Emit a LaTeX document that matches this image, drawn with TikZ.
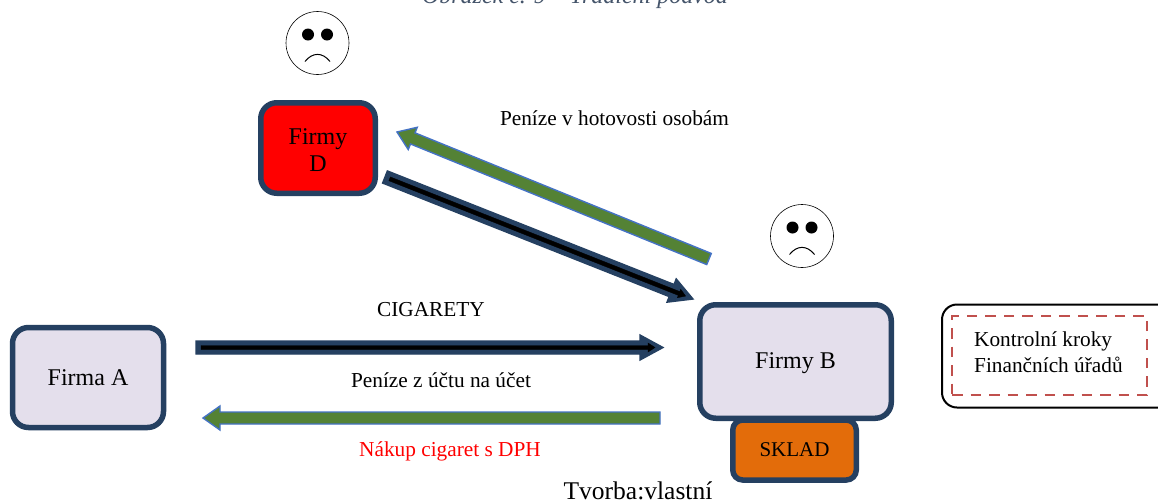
\documentclass[tikz,border=0pt]{standalone}
\usepackage{fontspec}
\setmainfont{Liberation Serif}
\usetikzlibrary{calc}
\definecolor{navy}{HTML}{254061}
\definecolor{lilac}{HTML}{E4DFEC}
\definecolor{leaf}{HTML}{548235}
\definecolor{sky}{HTML}{4472C4}
\definecolor{amber}{HTML}{E36C0A}
\definecolor{dashred}{HTML}{C0504D}
\definecolor{slate}{HTML}{44546A}
\newcommand{\blockarrow}[8]{%
  \coordinate (hb) at ($(#2)!#5!(#1)$);
  \filldraw[fill=#6,draw=#7,line width=#8,line join=miter]
    ($(#1)!#3!90:(#2)$) -- ($(hb)!#3!90:(#2)$) -- ($(hb)!#4!90:(#2)$) -- (#2)
    -- ($(hb)!#4!-90:(#2)$) -- ($(hb)!#3!-90:(#2)$) -- ($(#1)!#3!-90:(#2)$) -- cycle;
}
\newcommand{\sadface}[2]{%
  \begin{scope}[shift={(#1,#2)}]
    \draw[black,line width=0.6pt,fill=white] (0,0) circle (31.5pt);
    \fill (-9.5,-8.5) circle (6pt);
    \fill (9.5,-8.5) circle (6pt);
    \draw[line width=1pt] (-12.5,18.5) .. controls (-5,9) and (5,9) .. (12.5,18.5);
  \end{scope}%
}
\tikzset{
  x=1pt,y=-1pt,
  firm/.style={draw=navy,line width=5.5pt,rounded corners=16pt,fill=lilac,inner sep=0pt,align=center,font=\fontsize{24}{27}\selectfont},
  lab/.style={inner sep=0pt,font=\fontsize{21.3}{26}\selectfont,align=center},
}
\begin{document}
\begin{tikzpicture}
\clip (0,0) rectangle (1158,499);
\fill[white] (0,0) rectangle (1158,499);
\node[inner sep=0pt,text=slate,font=\itshape\fontsize{24}{26}\selectfont] (title) at (575,-2) {Obrázek č. 9 – Tradiční podvod};
% faces
\sadface{317.5}{43}
\sadface{802}{236}
% boxes
\node[firm,fill=red,minimum width=114.5pt,minimum height=90.5pt] (D) at (318,148) {};
\node[lab,font=\fontsize{24}{27}\selectfont] (Dt) at (318,150) {Firmy\\D};
\node[firm,minimum width=151pt,minimum height=100pt] (A) at (88,377.5) {};
\node[lab,font=\fontsize{24}{27}\selectfont] (At) at (88,378) {Firma A};
\node[firm,fill=amber,rounded corners=10pt,minimum width=123.5pt,minimum height=60pt,font=\fontsize{21}{24}\selectfont] (S) at (794.5,450) {SKLAD};
\node[firm,minimum width=191.5pt,minimum height=113.5pt] (B) at (795.5,361.5) {};
\node[lab,font=\fontsize{24}{27}\selectfont] (Bt) at (795.5,363) {Firmy B};
% control box
\node[draw=black,line width=2pt,rounded corners=15pt,fill=white,minimum width=240pt,minimum height=103pt,inner sep=0pt] (K) at (1062,356) {};
\node[draw=dashred,line width=2.8pt,dash pattern=on 10.5pt off 8pt,minimum width=195pt,minimum height=79pt,inner sep=0pt] (Kd) at (1049.5,355.5) {};
\node[lab,align=left,anchor=west] (Ktext) at (974,352) {Kontrolní kroky\\Finančních úřadů};
% arrow ends
\coordinate (a1s) at (196,347.5);
\coordinate (a1t) at (663,347.5);
\coordinate (a2s) at (660,418);
\coordinate (a2t) at (203,418);
\coordinate (a3s) at (385,177);
\coordinate (a3t) at (693,299);
\coordinate (a4s) at (709,259);
\coordinate (a4t) at (397,132);
% arrows
\blockarrow{a1s}{a1t}{6.5pt}{12.5pt}{23pt}{navy}{navy}{1.4pt}
\coordinate (i1s) at ($(a1s)!5pt!(a1t)$);
\coordinate (i1t) at ($(a1t)!8pt!(a1s)$);
\blockarrow{i1s}{i1t}{2pt}{4.5pt}{7pt}{black}{black}{0.4pt}
\blockarrow{a2s}{a2t}{6pt}{12pt}{17pt}{leaf}{sky}{1.4pt}
\blockarrow{a3s}{a3t}{6.5pt}{12.5pt}{23pt}{navy}{navy}{1.4pt}
\coordinate (i3s) at ($(a3s)!5pt!(a3t)$);
\coordinate (i3t) at ($(a3t)!8pt!(a3s)$);
\blockarrow{i3s}{i3t}{2pt}{4.5pt}{7pt}{black}{black}{0.4pt}
\blockarrow{a4s}{a4t}{6pt}{12pt}{17pt}{leaf}{sky}{1.4pt}
% labels
\node[lab] (l1) at (431,310) {CIGARETY};
\node[lab] (l2) at (441,380) {Peníze z účtu na účet};
\node[lab,text=red] (l3) at (450,451) {Nákup cigaret s DPH};
\node[lab] (l4) at (614.5,118) {Peníze v hotovosti osobám};
\node[lab,font=\fontsize{25.5}{28}\selectfont] (l5) at (638,491) {Tvorba:vlastní};
\end{tikzpicture}
\end{document}
